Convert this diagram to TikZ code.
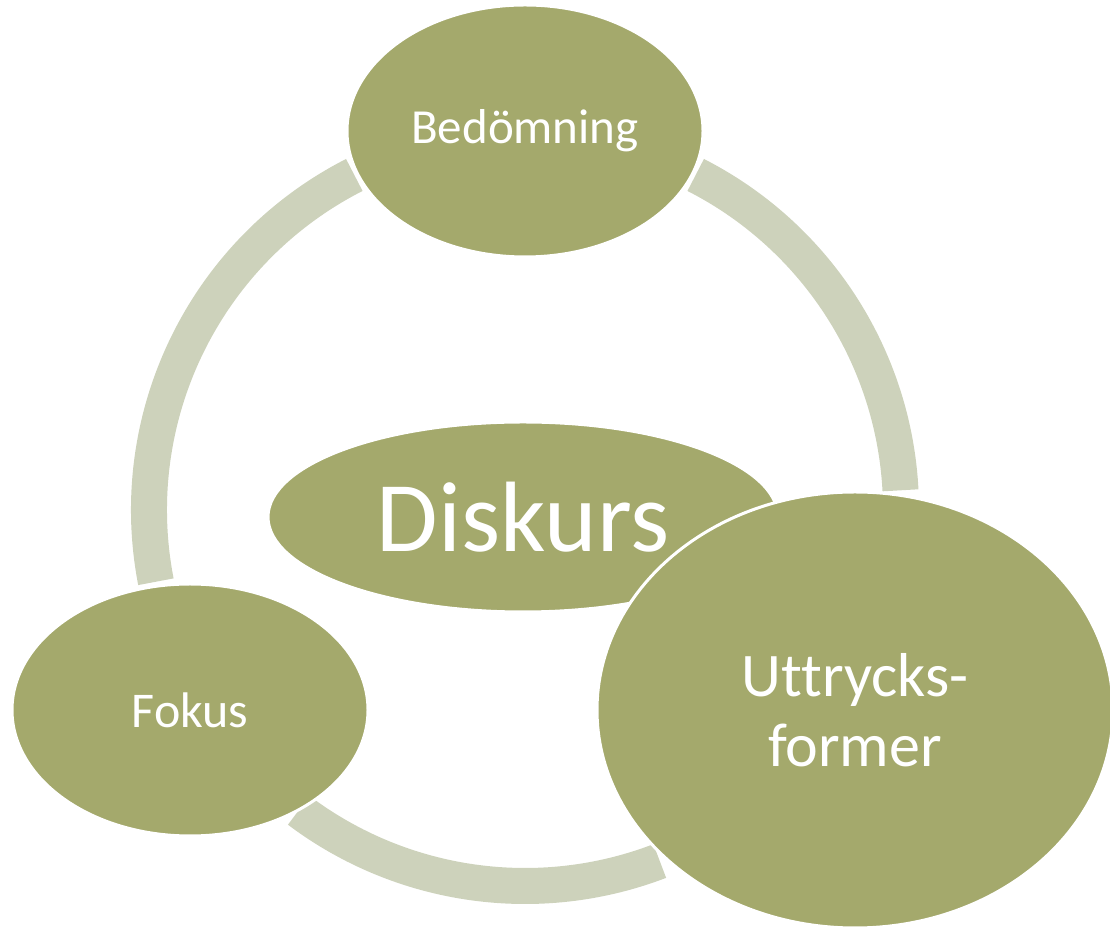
\documentclass[tikz,border=0pt]{standalone}
\usepackage{fontspec}
\setmainfont{Carlito}[Ligatures=NoCommon]
\usetikzlibrary{shapes.geometric}
\definecolor{olive}{RGB}{164,169,108}
\definecolor{ringgrey}{RGB}{205,210,187}
\tikzset{
  bubble/.style={ellipse, fill=olive, draw=white, line width=3pt, inner sep=0pt,
    text=white, align=center},
  loop/.style={draw=ringgrey, line width=36pt}
}
\begin{document}
\begin{tikzpicture}[x=1pt, y=1pt]
   \useasboundingbox (0,0) rectangle (1110,928);
   \coordinate (C) at (525,418);
   % ring pieces between the bubbles
   \draw[loop] ([shift={(3:376)}]C) arc[start angle=3, end angle=63, radius=376];
   \draw[loop] ([shift={(117:376)}]C) arc[start angle=117, end angle=191, radius=376];
   \draw[loop] ([shift={(233:376)}]C) arc[start angle=233, end angle=291, radius=376];
   \node (B) [bubble, minimum width=356, minimum height=252,
     font=\fontsize{49}{59}\selectfont] at (525,797) {Bed\"omning};
   \node (F) [bubble, minimum width=356, minimum height=252,
     font=\fontsize{50}{60}\selectfont] at (190,218) {Fokus};
   \node (D) [bubble, minimum width=510, minimum height=190,
     font=\fontsize{100}{120}\selectfont] at (523,411) {Diskurs};
   \node (U) [bubble, minimum width=516, minimum height=436,
     font=\fontsize{62}{70}\selectfont] at (855,218) {Uttrycks-\\former};
\end{tikzpicture}
\end{document}
